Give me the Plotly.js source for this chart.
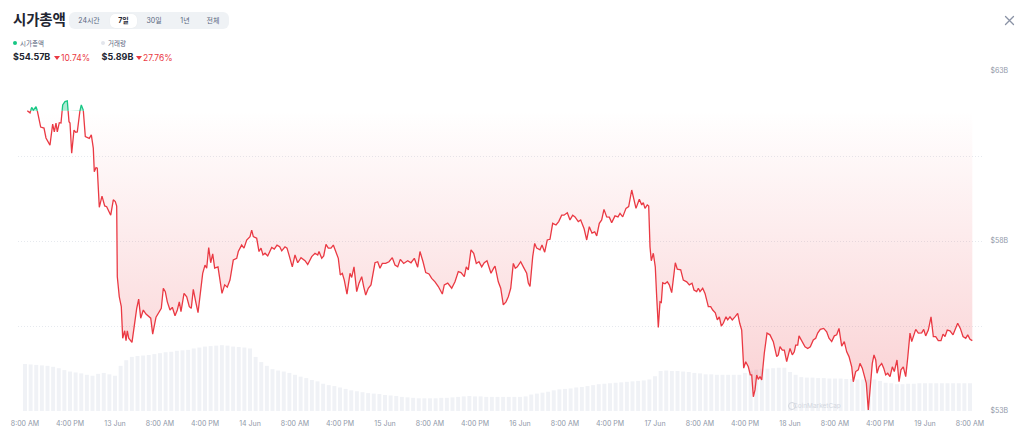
<!DOCTYPE html>
<html><head><meta charset="utf-8">
<script src="https://cdn.plot.ly/plotly-3.0.1.min.js"></script>
<style>
html,body{margin:0;padding:0;background:#fff;width:1024px;height:439px;overflow:hidden;font-family:Inter,"Noto Sans CJK KR",sans-serif;}
#chart{position:absolute;left:0;top:0;width:1024px;height:439px;}
.abs{position:absolute;white-space:nowrap;}
#title{left:13px;top:9px;font-size:14.5px;font-weight:700;color:#222531;font-family:"Noto Sans CJK KR",Inter,sans-serif;letter-spacing:-0.2px;line-height:20px;}
#tabs{left:69px;top:12px;width:160px;height:17px;background:#eff2f5;border-radius:6px;}
#tabsel{left:110px;top:13.5px;width:27px;height:14px;background:#fff;border-radius:5px;box-shadow:0 0 1px rgba(0,0,0,0.08);}
.tab{top:12px;height:17px;line-height:17px;font-size:7px;color:#58667e;text-align:center;width:40px;font-family:Inter,"Noto Sans CJK KR",sans-serif;}
.tab.sel{color:#222531;font-weight:700;}
.dot{width:4px;height:4px;border-radius:50%;top:41px;}
.lg{top:38px;font-size:6.5px;line-height:10px;color:#58667e;font-family:"Noto Sans CJK KR",Inter,sans-serif;}
.val{top:51px;font-size:9px;font-weight:700;line-height:12px;color:#222531;}
.pct{top:51.5px;font-size:8.5px;line-height:12px;color:#ea3943;}
.tri{top:55.5px;width:0;height:0;border-left:3.2px solid transparent;border-right:3.2px solid transparent;border-top:4px solid #ea3943;}
</style></head>
<body>
<div id="chart"></div>
<div class="abs" id="title">시가총액</div>
<div class="abs" id="tabs"></div>
<div class="abs" id="tabsel"></div>
<div class="abs tab" style="left:69px">24시간</div>
<div class="abs tab sel" style="left:103.5px">7일</div>
<div class="abs tab" style="left:134px">30일</div>
<div class="abs tab" style="left:165px">1년</div>
<div class="abs tab" style="left:193px">전체</div>
<div class="abs dot" style="left:13px;background:#16c784"></div>
<div class="abs lg" style="left:20px">시가총액</div>
<div class="abs dot" style="left:101px;background:#e3e6ec"></div>
<div class="abs lg" style="left:108px">거래량</div>
<div class="abs val" style="left:13px">$54.57B</div>
<div class="abs tri" style="left:54.3px"></div>
<div class="abs pct" style="left:61px">10.74%</div>
<div class="abs val" style="left:101.5px">$5.89B</div>
<div class="abs tri" style="left:136.3px"></div>
<div class="abs pct" style="left:143px">27.76%</div>
<svg class="abs" style="left:1004px;top:15px" width="11" height="11" viewBox="0 0 11 11">
<path d="M1.5 1.5 L9.5 9.5 M9.5 1.5 L1.5 9.5" stroke="#8a92a5" stroke-width="1.3" stroke-linecap="round"/></svg>
<script>
// ---- data ----
// market cap: hours since 12 Jun 08:00, value in $B
const hoursSinceStart = [
0.41,0.89,1.19,1.48,1.96,2.19,2.54,2.79,3.38,3.73,4.44,4.92,5.21,5.51,5.74,6.10,6.40,6.70,7.11,7.52,
7.82,8.00,8.30,8.71,9.01,9.30,9.78,10.01,10.36,10.72,11.43,11.79,12.14,12.32,12.62,12.85,13.21,13.69,14.17,14.52,
15.24,15.70,16.05,16.30,16.41,16.76,17.12,17.37,17.72,17.96,18.19,18.44,19.02,19.56,19.86,20.21,20.57,21.03,21.51,22.35,
22.70,23.29,23.88,24.23,24.59,24.94,25.30,25.78,26.19,26.67,27.08,27.43,27.73,28.27,28.75,29.21,29.56,29.92,30.40,30.76,
31.59,32.00,32.30,32.66,33.01,33.37,33.72,34.31,35.02,35.50,35.96,36.44,37.03,37.64,37.92,38.52,38.93,39.41,40.00,40.30,
40.59,41.19,41.60,
41.96,42.31,42.67,43.15,43.86,44.32,44.80,45.28,45.64,46.22,46.58,46.93,47.52,48.00,48.48,49.07,49.78,50.26,50.97,51.56,
52.04,52.27,52.75,53.10,53.51,53.92,54.40,54.81,55.24,55.70,56.05,56.41,56.76,57.24,57.78,58.08,58.49,58.97,59.38,59.86,
60.21,60.57,61.03,61.51,62.22,62.70,63.11,63.52,64.12,64.71,65.30,65.78,66.26,66.72,67.32,68.04,68.62,69.21,69.81,70.22,
70.76,71.24,71.82,72.30,72.89,73.48,74.19,74.54,75.15,75.86,76.44,77.03,77.51,78.10,78.45,78.81,79.29,79.77,80.23,80.71,
81.19,81.65,82.13,82.84,
83.32,83.56,84.14,84.57,85.03,85.51,85.92,86.35,86.81,87.16,87.52,88.12,88.59,89.19,89.48,89.78,90.26,90.61,90.97,91.56,
91.91,92.39,92.85,93.33,93.81,94.40,94.88,95.41,95.82,96.41,96.89,97.37,97.78,98.36,98.79,99.38,99.86,100.32,100.80,101.28,
101.64,102.10,102.52,102.93,103.41,103.88,104.30,104.89,105.42,105.78,106.26,106.84,107.32,107.86,108.27,108.62,109.21,109.64,109.92,110.22,
110.63,110.88,111.11,111.34,111.70,112.05,112.30,112.59,112.89,113.12,113.37,113.78,114.19,114.54,114.97,115.25,115.61,115.96,116.57,117.03,
117.64,118.10,118.58,118.93,119.41,119.70,120.00,120.48,120.89,121.48,121.90,122.26,122.72,123.08,123.43,123.79,124.14,124.62,
124.92,125.33,125.74,126.22,126.70,127.06,127.41,127.77,128.12,128.59,128.94,129.19,129.48,129.78,130.08,130.36,130.67,130.97,131.43,131.91,
132.44,133.03,133.64,133.92,134.22,134.63,134.99,135.41,136.00,136.41,136.76,137.01,137.37,137.60,138.08,138.67,139.15,139.61,140.14,140.57,
140.92,141.39,141.99,142.52,142.93,143.41,143.88,144.30,144.71,145.19,145.65,146.08,146.49,146.97,147.25,147.68,148.14,148.44,148.85,149.21,
149.56,149.92,150.28,150.63,150.93,151.24,151.47,151.82,152.30,152.66,153.01,153.37,153.78,154.19,154.54,155.02,155.38,155.73,156.14,156.57,
156.92,157.33,157.64,157.92,158.35,158.81,159.41,159.77,160.12,160.59,161.07,161.48,161.90,162.36,162.84,163.20,163.56,163.96,164.44,164.98,
165.33,165.81,166.28,166.76,167.24,167.59,168.00,168.41
];
const marketCapB = [
61.83,61.77,61.93,61.85,61.95,61.83,61.47,61.35,61.32,61.03,60.82,61.44,61.21,61.47,61.21,61.48,61.47,62.00,62.10,62.12,
61.51,61.47,60.58,61.26,61.20,61.21,61.85,62.00,61.85,61.07,61.02,61.12,60.73,60.04,60.16,60.14,58.99,59.32,59.03,59.01,
58.76,59.21,59.16,59.03,56.95,56.36,56.07,55.14,55.36,55.07,55.36,55.14,55.02,55.68,56.02,56.29,55.73,55.97,55.85,55.73,
55.26,55.76,55.92,56.02,56.61,56.51,56.21,55.97,56.05,55.80,55.97,56.21,55.92,56.46,56.36,56.07,56.02,56.58,56.17,55.89,
57.05,57.29,57.20,57.81,57.36,57.62,57.20,57.24,56.46,56.71,56.64,56.85,57.44,57.49,57.69,57.88,57.79,58.03,58.13,58.32,
58.13,58.08,57.69,
57.79,57.59,57.64,57.56,57.81,57.76,57.88,57.83,57.71,57.83,57.79,57.59,57.24,57.59,57.36,57.51,57.42,57.31,57.54,57.64,
57.59,57.69,57.49,57.56,57.90,57.79,57.79,57.88,57.66,57.49,57.00,57.05,56.85,56.44,57.05,56.93,57.24,56.51,56.76,56.95,
56.66,56.41,56.61,56.71,57.36,57.39,57.20,57.34,57.34,57.39,57.51,57.29,57.24,57.46,57.34,57.42,57.36,57.49,57.23,57.69,
57.39,57.07,57.03,56.90,56.80,56.66,56.44,56.71,56.76,56.61,56.80,57.10,57.07,56.95,57.24,57.15,57.74,57.64,57.34,57.39,
57.24,57.36,57.42,57.05,
57.20,57.26,56.80,56.61,56.12,56.21,56.36,56.61,57.34,57.20,57.24,57.39,57.24,57.05,56.76,56.66,57.54,57.93,57.79,57.74,
57.88,57.67,58.03,58.05,58.52,58.47,58.57,58.76,58.76,58.83,58.62,58.76,58.71,58.57,58.62,58.37,58.03,58.42,58.23,58.27,
58.15,58.52,58.62,58.93,58.71,58.70,58.54,58.74,58.71,58.81,58.71,58.96,59.01,59.50,59.21,58.96,59.23,59.06,59.13,58.96,
59.06,59.03,57.83,57.42,57.64,57.24,56.36,55.46,56.21,56.19,56.77,56.74,56.80,56.71,56.48,56.95,57.36,57.17,57.15,56.85,
56.80,56.71,56.76,56.56,56.51,56.61,56.51,56.61,56.46,56.07,56.07,55.97,55.89,55.68,55.77,55.50,55.58,55.77,
55.68,55.77,55.68,55.77,55.87,55.58,55.38,54.26,54.45,54.30,54.06,54.06,53.42,53.62,54.06,53.93,54.01,53.91,54.70,55.29,
55.24,55.04,54.60,54.65,54.89,54.79,54.79,54.45,54.84,54.65,54.74,54.94,54.94,55.21,55.07,54.89,54.84,54.89,55.09,55.14,
55.29,55.40,55.43,55.33,55.14,55.04,55.21,55.24,55.43,54.91,55.04,54.74,54.60,54.30,53.86,54.16,54.21,54.40,54.26,54.01,
53.82,53.03,53.82,54.40,54.65,54.50,54.11,54.30,54.40,54.26,54.06,54.11,54.01,54.30,54.16,54.50,53.86,54.21,54.30,54.01,
54.55,55.29,55.04,55.19,55.40,55.29,55.30,55.40,55.21,55.38,55.77,55.19,55.19,55.07,55.07,55.26,55.19,55.38,55.36,55.24,
55.40,55.58,55.43,55.19,55.14,55.24,55.11,55.07
];
// hourly volume in $B, hour 0 = 12 Jun 08:00
const volumeB = [
10.0,9.9,9.8,9.7,9.6,9.4,9.1,8.7,8.4,8.2,
8.0,7.7,7.5,7.9,8.1,7.8,7.5,9.6,10.8,11.5,
11.7,11.8,11.9,12.1,12.3,12.5,12.6,12.8,12.9,13.0,
13.3,13.5,13.7,13.8,13.9,14.0,13.9,13.7,13.6,13.5,
13.3,11.5,10.4,9.6,8.9,8.6,8.4,8.1,7.7,7.3,
7.0,6.6,6.3,5.8,5.5,5.3,5.0,4.7,4.4,4.2,
4.0,3.8,3.7,3.6,3.4,3.3,3.2,3.0,2.9,2.8,
2.7,2.7,2.7,2.7,2.8,2.8,2.9,3.0,3.1,3.2,
3.1,3.1,3.0,3.0,3.0,3.0,3.0,3.0,3.0,3.1,
3.5,3.7,3.9,4.1,4.4,4.6,4.7,4.8,5.0,5.1,
5.3,5.5,5.7,5.8,5.9,6.0,6.1,6.2,6.3,6.4,
6.5,6.7,7.4,8.5,8.6,8.5,8.5,8.4,8.3,8.1,
8.0,7.8,7.8,7.7,7.7,7.7,7.7,7.7,8.1,8.6,
8.8,9.0,9.0,9.1,9.2,9.2,8.3,7.7,7.2,7.1,
7.1,7.0,7.0,6.9,6.9,6.9,6.8,6.8,6.7,6.7,
6.7,6.7,6.4,6.0,5.9,5.7,5.7,5.8,5.8,5.9,
5.9,5.9,5.9,5.9,5.9,5.9,5.9,5.9,5.9
];
// x tick labels, every 8 hours from 12 Jun 08:00
const xTickLabels = ['8:00 AM','4:00 PM','13 Jun','8:00 AM','4:00 PM','14 Jun','8:00 AM','4:00 PM','15 Jun',
'8:00 AM','4:00 PM','16 Jun','8:00 AM','4:00 PM','17 Jun','8:00 AM','4:00 PM','18 Jun','8:00 AM','4:00 PM','19 Jun','8:00 AM'];
const yTickVals = [53,55.5,58,60.5,63];
const yTickLabels = ['$53B','','$58B','','$63B'];

// ---- build ----
const START = Date.UTC(2024,5,12,8,0,0);
const H = 3600e3;
const toMs = h => START + h*H;
const n = Math.min(hoursSinceStart.length, marketCapB.length);
const base = marketCapB[0];
const X=[],Ylo=[],Yhi=[],Yred=[],Ygrn=[];
function push(t,v){X.push(t);Ylo.push(Math.min(v,base));Yhi.push(Math.max(v,base));Yred.push(v<=base?v:null);Ygrn.push(v>=base?v:null);}
for(let i=0;i<n;i++){
  const v=marketCapB[i], t=toMs(hoursSinceStart[i]);
  push(t,v);
  if(i<n-1){
    const v2=marketCapB[i+1];
    if((v-base)*(v2-base)<0){
      const f=(base-v)/(v2-v);
      push(t+f*(toMs(hoursSinceStart[i+1])-t), base);
    }
  }
}
const baseY = X.map(()=>base);
const volX = volumeB.map((_,i)=>toMs(i));
const tickX = xTickLabels.map((_,i)=>toMs(i*8));
const RED='#ea3943', GREEN='#16c784';

const traces = [
  {type:'bar', x:volX, y:volumeB, yaxis:'y', marker:{color:'#f0f2f6',line:{width:0}}, hoverinfo:'skip'},
  {type:'scatter', mode:'lines', x:X, y:baseY, yaxis:'y2', line:{width:0,color:'rgba(0,0,0,0)'}, hoverinfo:'skip'},
  {type:'scatter', mode:'lines', x:X, y:Ylo, yaxis:'y2', line:{width:0,color:'rgba(0,0,0,0)'}, fill:'tonexty',
   fillgradient:{type:'vertical', start:53, stop:base, colorscale:[[0,'rgba(234,57,67,0.24)'],[1,'rgba(234,57,67,0.0)']]}, hoverinfo:'skip'},
  {type:'scatter', mode:'lines', x:X, y:baseY, yaxis:'y2', line:{width:0,color:'rgba(0,0,0,0)'}, hoverinfo:'skip'},
  {type:'scatter', mode:'lines', x:X, y:Yhi, yaxis:'y2', line:{width:0,color:'rgba(0,0,0,0)'}, fill:'tonexty',
   fillcolor:'rgba(22,199,132,0.35)', hoverinfo:'skip'},
  {type:'scatter', mode:'lines', x:X, y:Yred, yaxis:'y2', line:{width:1.3,color:RED}, connectgaps:false},
  {type:'scatter', mode:'lines', x:X, y:Ygrn, yaxis:'y2', line:{width:1.3,color:GREEN}, connectgaps:false}
];

const tickFont = {family:'Inter, sans-serif', size:7, color:'#8f97a8'};
const layout = {
  width:1024, height:439,
  margin:{l:18, r:41, t:71, b:28},
  paper_bgcolor:'#ffffff', plot_bgcolor:'rgba(0,0,0,0)',
  showlegend:false, bargap:0.3, hovermode:false,
  xaxis:{type:'date', range:[toMs(-1.244), toMs(170.31)], tickmode:'array', tickvals:tickX, ticktext:xTickLabels,
    showgrid:false, zeroline:false, showline:false, ticks:'outside', ticklen:6, tickcolor:'rgba(0,0,0,0)', tickfont:tickFont, fixedrange:true},
  yaxis:{range:[0,72.3], visible:false, showgrid:false, zeroline:false, fixedrange:true},
  yaxis2:{overlaying:'y', side:'right', range:[53,63], tickmode:'array', tickvals:yTickVals, ticktext:yTickLabels,
    showgrid:true, gridcolor:'#e6e9ee', griddash:'1px,2px', gridwidth:1, zeroline:false, showline:false,
    ticks:'outside', ticklen:5, tickcolor:'rgba(0,0,0,0)', tickfont:tickFont, fixedrange:true},
  annotations:[
    {xref:'paper', yref:'paper', x:(817-18)/965, y:(411-406)/340, text:'CoinMarketCap', showarrow:false,
     font:{family:'Inter, sans-serif', size:6.5, color:'#d3d7df'}, xanchor:'center', yanchor:'middle'}
  ],
  shapes:[
    {type:'circle', xref:'paper', yref:'paper', x0:(788.5-18)/965, x1:(795.5-18)/965, y0:(411-409.5)/340, y1:(411-402.5)/340,
     line:{color:'#d3d7df', width:1}}
  ]
};
Plotly.newPlot('chart', traces, layout, {displayModeBar:false, staticPlot:true});
</script>
</body></html>
